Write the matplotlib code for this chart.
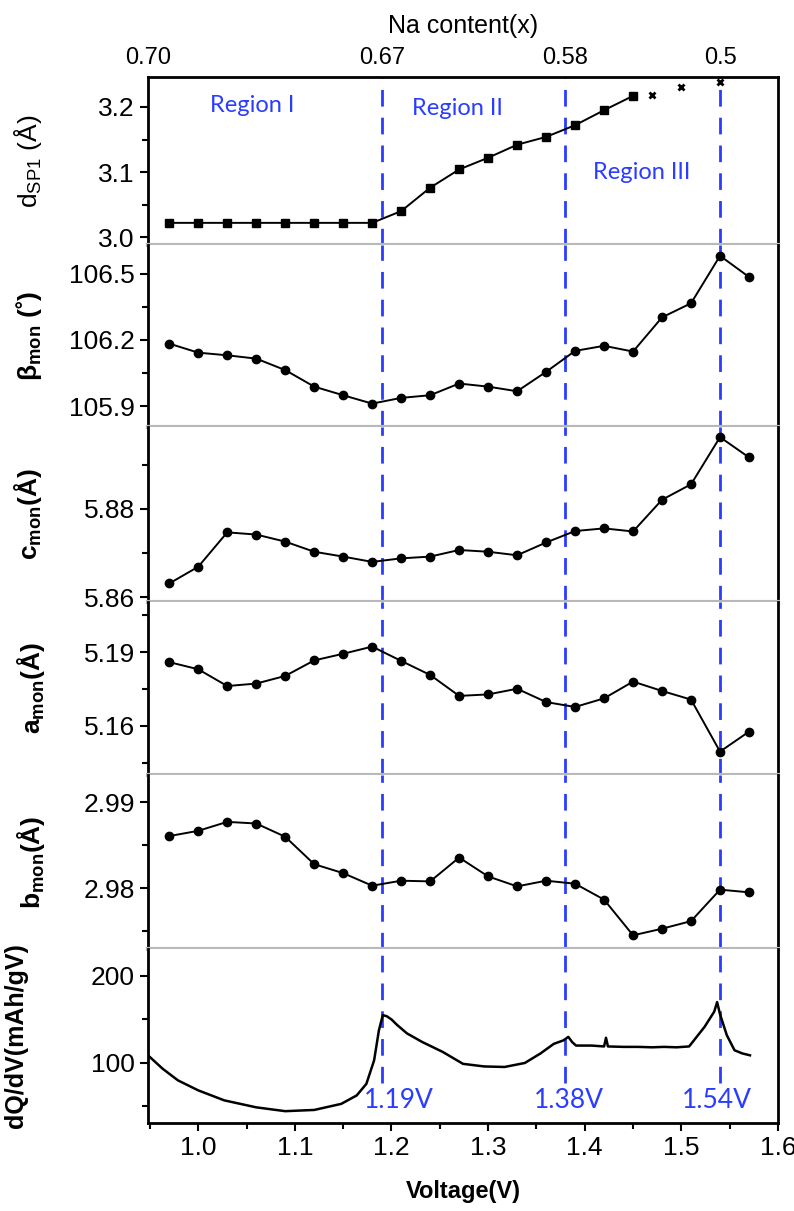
import matplotlib
matplotlib.use("Agg")
import matplotlib.pyplot as plt
from matplotlib.ticker import MultipleLocator

plt.rcParams['font.family'] = ['Liberation Sans', 'DejaVu Sans']
plt.rcParams['mathtext.fontset'] = 'custom'
plt.rcParams['mathtext.rm'] = 'Liberation Sans'
plt.rcParams['mathtext.bf'] = 'Liberation Sans:bold'
plt.rcParams['mathtext.it'] = 'Liberation Sans:italic'

# voltages of the refined patterns
voltage = [0.97, 1.00, 1.03, 1.06, 1.09, 1.12, 1.15, 1.18, 1.21, 1.24, 1.27,
           1.30, 1.33, 1.36, 1.39, 1.42, 1.45, 1.48, 1.51, 1.54, 1.57]

# d_SP1 (squares) and the extra points (crosses)
d_sp1_v = voltage[:17]
d_sp1 = [3.022, 3.022, 3.022, 3.022, 3.022, 3.022, 3.022, 3.022, 3.040, 3.076,
         3.104, 3.122, 3.142, 3.154, 3.172, 3.195, 3.217]
d_sp1_x_v = [1.47, 1.50, 1.54]
d_sp1_x = [3.219, 3.230, 3.238]

beta_mon = [106.183, 106.142, 106.130, 106.115, 106.063, 105.988, 105.949,
            105.911, 105.937, 105.949, 106.002, 105.988, 105.967, 106.055,
            106.150, 106.173, 106.147, 106.302, 106.366, 106.581, 106.485]

c_mon = [5.8631, 5.8669, 5.8747, 5.8742, 5.8726, 5.8703, 5.8692, 5.8680,
         5.8688, 5.8692, 5.8707, 5.8703, 5.8695, 5.8724, 5.8750, 5.8756,
         5.8749, 5.8821, 5.8856, 5.8963, 5.8917]

a_mon = [5.1859, 5.1830, 5.1762, 5.1772, 5.1803, 5.1866, 5.1893, 5.1922,
         5.1864, 5.1807, 5.1722, 5.1728, 5.1751, 5.1697, 5.1677, 5.1712,
         5.1780, 5.1742, 5.1707, 5.1496, 5.1577]

b_mon = [2.98604, 2.98665, 2.98769, 2.98750, 2.98596, 2.98277, 2.98173,
         2.98027, 2.98085, 2.98077, 2.98354, 2.98135, 2.98019, 2.98085,
         2.98050, 2.97865, 2.97450, 2.97527, 2.97615, 2.97981, 2.97950]

# dQ/dV curve
dqdv_v = [0.948, 0.963, 0.979, 1.000, 1.027, 1.060, 1.090, 1.120, 1.148,
          1.164, 1.174, 1.182, 1.187, 1.191, 1.195, 1.200, 1.206, 1.216,
          1.232, 1.253, 1.274, 1.296, 1.317, 1.338, 1.354, 1.368, 1.378,
          1.383, 1.387, 1.391, 1.407, 1.420, 1.422, 1.424, 1.440, 1.455,
          1.470, 1.482, 1.495, 1.508, 1.513, 1.524, 1.534, 1.537, 1.540,
          1.547, 1.555, 1.563, 1.571]
dqdv = [108.8, 93.5, 80.0, 68.5, 57.0, 49.0, 44.6, 46.0, 53.0,
        62.7, 76.0, 103.0, 137.7, 155.0, 153.8, 150.0, 143.5, 134.0,
        124.0, 112.7, 99.0, 96.0, 95.4, 100.0, 110.8, 122.0, 126.0,
        130.0, 124.0, 120.0, 120.0, 119.0, 129.0, 119.0, 118.5, 118.5,
        118.0, 118.5, 118.0, 119.0, 126.0, 141.5, 159.0, 170.0, 156.0,
        132.0, 114.6, 111.0, 108.8]

peak_v = [1.19, 1.38, 1.54]
peak_labels = ['1.19V', '1.38V', '1.54V']
peak_label_x = [1.208, 1.384, 1.537]

na_tick_v = [0.948, 1.19, 1.38, 1.54]
na_labels = ['0.70', '0.67', '0.58', '0.5']

region_labels = ['Region I', 'Region II', 'Region III']
region_x = [1.056, 1.268, 1.459]
region_y = [3.203, 3.198, 3.100]

blue = '#2a3cff'
grey = '#b8b8b8'
W, H = 794, 1211
fig = plt.figure(figsize=(W / 100, H / 100), dpi=100)

# panel edges in pixels from the top
edges = [77, 245, 427, 602, 775, 949, 1123]
left_px, right_px = 148, 778
axes = []
for i in range(6):
    top, bot = edges[i], edges[i + 1]
    ax = fig.add_axes([left_px / W, 1 - bot / H, (right_px - left_px) / W, (bot - top) / H])
    axes.append(ax)

ylims = [(2.988, 3.246), (105.805, 106.63), (5.8589, 5.8986),
         (5.1401, 5.2103), (2.97291, 2.99314), (31, 231)]
majors = [0.1, 0.3, 0.02, 0.03, 0.01, 100]
ylabels = [r'd$_{\mathregular{SP1}}$ (Å)',
           r'β$_{\mathbf{mon}}$ (˚)',
           r'$\mathbf{c_{mon}}$(Å)',
           r'$\mathbf{a_{mon}}$(Å)',
           r'$\mathbf{b_{mon}}$(Å)',
           'dQ/dV(mAh/gV)']
label_x = [-0.165, -0.165, -0.165, -0.16, -0.16, -0.19]

for i, ax in enumerate(axes):
    ax.set_xlim(0.948, 1.6)
    ax.set_ylim(*ylims[i])
    ax.yaxis.set_major_locator(MultipleLocator(majors[i]))
    ax.yaxis.set_minor_locator(MultipleLocator(majors[i] / 2))
    ax.xaxis.set_major_locator(MultipleLocator(0.1))
    ax.xaxis.set_minor_locator(MultipleLocator(0.05))
    ax.tick_params(axis='y', which='major', direction='out', length=6, width=1.5, labelsize=19)
    ax.tick_params(axis='y', which='minor', direction='out', length=4, width=1.5)
    ax.spines['left'].set_linewidth(2)
    ax.spines['right'].set_linewidth(2)
    if i > 0:
        ax.spines['top'].set_visible(False)
    else:
        ax.spines['top'].set_linewidth(2)
    if i < 5:
        ax.spines['bottom'].set_color(grey)
        ax.spines['bottom'].set_linewidth(3)
        ax.tick_params(axis='x', which='both', bottom=False, labelbottom=False)
    else:
        ax.spines['bottom'].set_linewidth(2)
        ax.tick_params(axis='x', which='major', direction='out', length=6, width=1.5, labelsize=19)
        ax.tick_params(axis='x', which='minor', direction='out', length=4, width=1.5)
    weight = 'normal' if i == 0 else 'bold'
    ax.set_ylabel(ylabels[i], fontsize=19 if i < 5 else 18, fontweight=weight)
    ax.yaxis.set_label_coords(label_x[i], 0.5)
    for v in peak_v:
        if i < 5:
            ax.axvline(v, color=blue, ls=(0, (6, 4)), lw=2, zorder=1)
        else:
            # the last panel's lines stop above the peak labels
            ax.axvline(v, color=blue, ls=(0, (6, 4)), lw=2, zorder=1, ymin=0.23, ymax=1)

# d_SP1 panel
ax = axes[0]
ax.plot(d_sp1_v, d_sp1, color='black', lw=1.4, marker='s', ms=5.5, zorder=3)
ax.plot(d_sp1_x_v, d_sp1_x, ls='none', color='black', marker='x', ms=5, mew=2, zorder=3)
for t, x, y in zip(region_labels, region_x, region_y):
    ax.text(x, y, t, color=blue, fontsize=17, ha='center', va='center', family='Lato')
top = ax.secondary_xaxis('top')
top.set_xticks(na_tick_v)
top.set_xticklabels(na_labels)
top.tick_params(axis='x', length=0, labelsize=17, pad=6)
top.set_xlabel('Na content(x)', fontsize=18, labelpad=10)

series = [beta_mon, c_mon, a_mon, b_mon]
for ax, vals in zip(axes[1:5], series):
    ax.plot(voltage, vals, color='black', lw=1.4, marker='o', ms=6, zorder=3)

ax = axes[5]
ax.plot(dqdv_v, dqdv, color='black', lw=1.8, zorder=3)
for t, x in zip(peak_labels, peak_label_x):
    ax.text(x, 42, t, color=blue, fontsize=19, ha='center', va='bottom', family='Lato')
ax.set_xlabel('Voltage(V)', fontsize=17, fontweight='bold', labelpad=14)

fig.savefig('out.png', dpi=100)
